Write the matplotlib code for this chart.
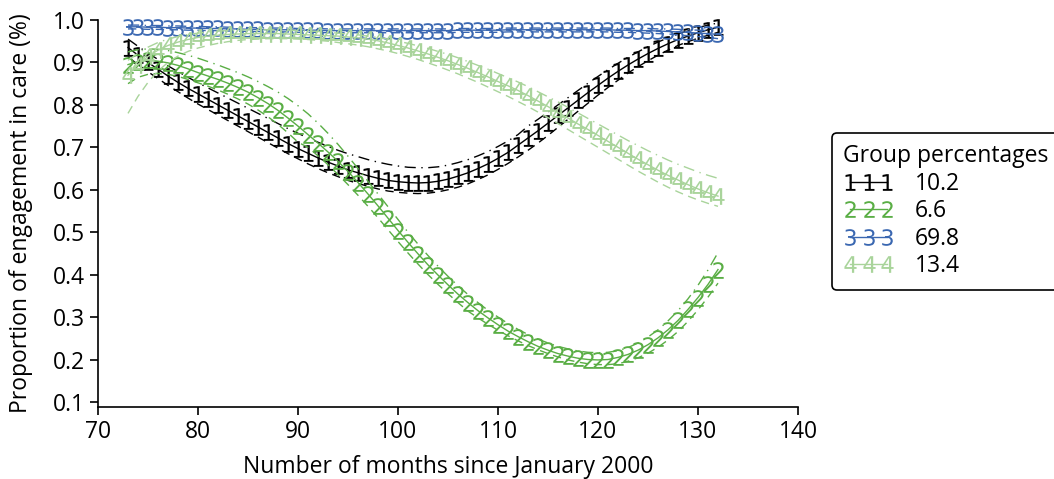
import matplotlib
matplotlib.use("Agg")
import matplotlib.pyplot as plt
from matplotlib.lines import Line2D
import numpy as np

plt.rcParams['font.family'] = ['Open Sans', 'DejaVu Sans']

# months since January 2000
months = list(range(73, 133))

# group 1 (10.2%)
g1 = [0.935, 0.917, 0.900, 0.884, 0.868, 0.853, 0.839, 0.826, 0.813, 0.800,
      0.787, 0.774, 0.761, 0.748, 0.735, 0.722, 0.709, 0.697, 0.686, 0.675,
      0.665, 0.656, 0.647, 0.640, 0.633, 0.627, 0.622, 0.619, 0.617, 0.616,
      0.617, 0.620, 0.625, 0.632, 0.640, 0.650, 0.661, 0.674, 0.688, 0.705,
      0.722, 0.739, 0.757, 0.775, 0.793, 0.811, 0.829, 0.846, 0.863, 0.879,
      0.894, 0.908, 0.921, 0.933, 0.944, 0.954, 0.962, 0.970, 0.977, 0.983]
g1_hi = [0.955, 0.938, 0.922, 0.907, 0.892, 0.878, 0.865, 0.852, 0.840, 0.828,
         0.816, 0.804, 0.792, 0.780, 0.768, 0.756, 0.744, 0.733, 0.722, 0.712,
         0.702, 0.693, 0.685, 0.678, 0.671, 0.665, 0.660, 0.656, 0.653, 0.652,
         0.652, 0.654, 0.658, 0.664, 0.671, 0.680, 0.690, 0.702, 0.715, 0.730,
         0.750, 0.766, 0.783, 0.800, 0.817, 0.834, 0.851, 0.867, 0.883, 0.898,
         0.912, 0.925, 0.937, 0.948, 0.958, 0.967, 0.975, 0.982, 0.988, 0.993]
g1_lo = [0.913, 0.895, 0.878, 0.862, 0.846, 0.831, 0.816, 0.802, 0.789, 0.776,
         0.763, 0.750, 0.737, 0.724, 0.711, 0.698, 0.685, 0.673, 0.661, 0.650,
         0.640, 0.631, 0.622, 0.615, 0.608, 0.602, 0.597, 0.594, 0.592, 0.591,
         0.592, 0.595, 0.600, 0.606, 0.614, 0.624, 0.635, 0.648, 0.662, 0.677,
         0.693, 0.710, 0.728, 0.747, 0.766, 0.785, 0.804, 0.823, 0.841, 0.858,
         0.875, 0.890, 0.904, 0.917, 0.929, 0.940, 0.949, 0.957, 0.964, 0.971]

# group 2 (6.6%)
g2 = [0.895, 0.902, 0.905, 0.903, 0.899, 0.893, 0.885, 0.876, 0.868, 0.860,
      0.851, 0.841, 0.830, 0.817, 0.803, 0.787, 0.769, 0.750, 0.730, 0.710,
      0.689, 0.667, 0.643, 0.617, 0.590, 0.562, 0.533, 0.504, 0.476, 0.449,
      0.423, 0.399, 0.376, 0.354, 0.334, 0.315, 0.298, 0.282, 0.267, 0.254,
      0.242, 0.231, 0.222, 0.214, 0.208, 0.203, 0.200, 0.199, 0.200, 0.205,
      0.212, 0.222, 0.235, 0.251, 0.270, 0.292, 0.318, 0.346, 0.377, 0.412]
g2_hi = [0.925, 0.930, 0.932, 0.931, 0.928, 0.923, 0.917, 0.910, 0.902, 0.894,
         0.885, 0.876, 0.866, 0.855, 0.843, 0.830, 0.815, 0.798, 0.779, 0.757,
         0.733, 0.707, 0.679, 0.650, 0.620, 0.590, 0.560, 0.530, 0.500, 0.472,
         0.445, 0.420, 0.396, 0.374, 0.353, 0.334, 0.316, 0.300, 0.285, 0.271,
         0.259, 0.248, 0.239, 0.231, 0.225, 0.220, 0.217, 0.216, 0.217, 0.221,
         0.228, 0.239, 0.253, 0.270, 0.291, 0.315, 0.343, 0.375, 0.411, 0.452]
g2_lo = [0.850, 0.865, 0.872, 0.874, 0.872, 0.867, 0.860, 0.852, 0.844, 0.835,
         0.825, 0.814, 0.802, 0.788, 0.772, 0.754, 0.734, 0.712, 0.700, 0.680,
         0.659, 0.636, 0.612, 0.587, 0.561, 0.534, 0.506, 0.478, 0.451, 0.425,
         0.400, 0.377, 0.355, 0.334, 0.314, 0.298, 0.283, 0.269, 0.256, 0.244,
         0.233, 0.223, 0.214, 0.206, 0.199, 0.194, 0.190, 0.188, 0.188, 0.190,
         0.196, 0.204, 0.215, 0.229, 0.246, 0.266, 0.290, 0.317, 0.347, 0.380]

# group 3 (69.8%)
g3 = [0.984, 0.984, 0.983, 0.983, 0.982, 0.982, 0.981, 0.981, 0.980, 0.980,
      0.979, 0.979, 0.978, 0.978, 0.977, 0.977, 0.977, 0.976, 0.976, 0.976,
      0.975, 0.975, 0.975, 0.975, 0.975, 0.975, 0.975, 0.975, 0.975, 0.975,
      0.975, 0.975, 0.975, 0.976, 0.976, 0.976, 0.976, 0.976, 0.977, 0.977,
      0.977, 0.977, 0.977, 0.977, 0.977, 0.977, 0.977, 0.977, 0.977, 0.976,
      0.976, 0.975, 0.975, 0.974, 0.973, 0.972, 0.971, 0.969, 0.968, 0.966]
g3_hi = [0.988, 0.988, 0.987, 0.987, 0.986, 0.986, 0.985, 0.985, 0.984, 0.984,
         0.983, 0.983, 0.982, 0.982, 0.981, 0.981, 0.981, 0.980, 0.980, 0.980,
         0.979, 0.979, 0.979, 0.979, 0.979, 0.979, 0.979, 0.979, 0.979, 0.979,
         0.979, 0.979, 0.979, 0.980, 0.980, 0.980, 0.980, 0.980, 0.981, 0.981,
         0.981, 0.981, 0.981, 0.981, 0.981, 0.981, 0.981, 0.981, 0.981, 0.980,
         0.980, 0.980, 0.980, 0.979, 0.979, 0.978, 0.977, 0.976, 0.975, 0.974]
g3_lo = [0.979, 0.979, 0.978, 0.978, 0.977, 0.977, 0.976, 0.976, 0.975, 0.975,
         0.974, 0.974, 0.973, 0.973, 0.972, 0.972, 0.972, 0.971, 0.971, 0.971,
         0.970, 0.970, 0.970, 0.970, 0.970, 0.970, 0.970, 0.970, 0.970, 0.970,
         0.970, 0.970, 0.970, 0.971, 0.971, 0.971, 0.971, 0.971, 0.972, 0.972,
         0.972, 0.972, 0.972, 0.972, 0.972, 0.972, 0.972, 0.972, 0.972, 0.971,
         0.971, 0.970, 0.969, 0.968, 0.967, 0.965, 0.963, 0.961, 0.959, 0.956]

# group 4 (13.4%)
g4 = [0.870, 0.895, 0.914, 0.929, 0.940, 0.948, 0.954, 0.959, 0.962, 0.964,
      0.966, 0.967, 0.968, 0.968, 0.968, 0.968, 0.967, 0.966, 0.965, 0.964,
      0.963, 0.962, 0.960, 0.958, 0.955, 0.951, 0.946, 0.940, 0.934, 0.927,
      0.920, 0.912, 0.904, 0.895, 0.886, 0.876, 0.866, 0.855, 0.845, 0.834,
      0.822, 0.809, 0.796, 0.782, 0.769, 0.755, 0.742, 0.728, 0.714, 0.700,
      0.686, 0.672, 0.659, 0.646, 0.634, 0.623, 0.612, 0.602, 0.593, 0.585]
g4_hi = [0.905, 0.922, 0.936, 0.947, 0.955, 0.961, 0.966, 0.969, 0.972, 0.974,
         0.975, 0.976, 0.977, 0.977, 0.977, 0.977, 0.976, 0.975, 0.974, 0.973,
         0.971, 0.969, 0.967, 0.965, 0.962, 0.959, 0.955, 0.950, 0.945, 0.939,
         0.933, 0.926, 0.919, 0.911, 0.902, 0.893, 0.884, 0.874, 0.864, 0.854,
         0.843, 0.831, 0.819, 0.807, 0.794, 0.781, 0.768, 0.755, 0.742, 0.729,
         0.716, 0.704, 0.692, 0.681, 0.670, 0.660, 0.651, 0.642, 0.634, 0.627]
g4_lo = [0.780, 0.820, 0.853, 0.880, 0.900, 0.915, 0.926, 0.934, 0.940, 0.945,
         0.949, 0.952, 0.954, 0.955, 0.956, 0.956, 0.956, 0.955, 0.954, 0.952,
         0.950, 0.947, 0.944, 0.941, 0.937, 0.932, 0.927, 0.921, 0.914, 0.907,
         0.899, 0.891, 0.882, 0.873, 0.863, 0.853, 0.842, 0.831, 0.820, 0.808,
         0.796, 0.783, 0.770, 0.756, 0.742, 0.728, 0.714, 0.700, 0.686, 0.672,
         0.658, 0.644, 0.631, 0.618, 0.606, 0.595, 0.585, 0.576, 0.568, 0.561]

group_labels = ['10.2', '6.6', '69.8', '13.4']
colors = ['#000000', '#5aae45', '#3a67b1', '#a9d49b']
markers = ['$1$', '$2$', '$3$', '$4$']

fig = plt.figure(figsize=(10.54, 4.79), dpi=100)
ax = fig.add_axes([98 / 1054, 1 - 407 / 479, 700 / 1054, (407 - 20) / 479])

series = [(g1, g1_hi, g1_lo), (g2, g2_hi, g2_lo), (g3, g3_hi, g3_lo), (g4, g4_hi, g4_lo)]
handles = []
for (mid, hi, lo), c, m, lab in zip(series, colors, markers, group_labels):
    # upper bound dash-dot, lower bound dashed, fitted curve with group number markers
    ax.plot(months, hi, color=c, lw=1, ls=(0, (8, 4, 1, 4)), clip_on=False)
    ax.plot(months, lo, color=c, lw=1, ls=(0, (6, 4)), clip_on=False)
    ax.plot(months, mid, color=c, lw=1, marker=m, markersize=12,
            markeredgewidth=0, clip_on=False)
    handles.append(Line2D([], [], color=c, lw=1, marker=m, markersize=12,
                          markeredgewidth=0, label=lab))

ax.set_xlim(70, 140)
ax.set_ylim(1.0 - 387 / 424.4, 1.0)
ax.set_xticks(range(70, 141, 10))
yt = np.round(np.arange(0.1, 1.01, 0.1), 1)
ax.set_yticks(yt)
ax.set_yticklabels(['%.1f' % v for v in yt])
ax.spines['top'].set_visible(False)
ax.spines['right'].set_visible(False)
ax.spines['left'].set_bounds(1.0 - 387 / 424.4, 1.0)
for s in ('left', 'bottom'):
    ax.spines[s].set_linewidth(1.2)
ax.tick_params(labelsize=16.5, length=6, width=1.2)
ax.set_xlabel('Number of months since January 2000', fontsize=16.5, labelpad=8)
ax.set_ylabel('Proportion of engagement in care (%)', fontsize=16.5, labelpad=14)

leg = fig.legend(handles=handles, title='Group percentages', loc='upper left',
                 bbox_to_anchor=(832 / 1054, 1 - 133 / 479), borderaxespad=0,
                 numpoints=3, handlelength=2.2, handletextpad=0.9, fontsize=16.5,
                 title_fontsize=16.5, frameon=True, fancybox=True, edgecolor='black',
                 alignment='left', labelspacing=0.15, borderpad=0.5)
leg.get_frame().set_linewidth(1.2)
leg.get_frame().set_alpha(1)

fig.savefig('out.png', dpi=100)
